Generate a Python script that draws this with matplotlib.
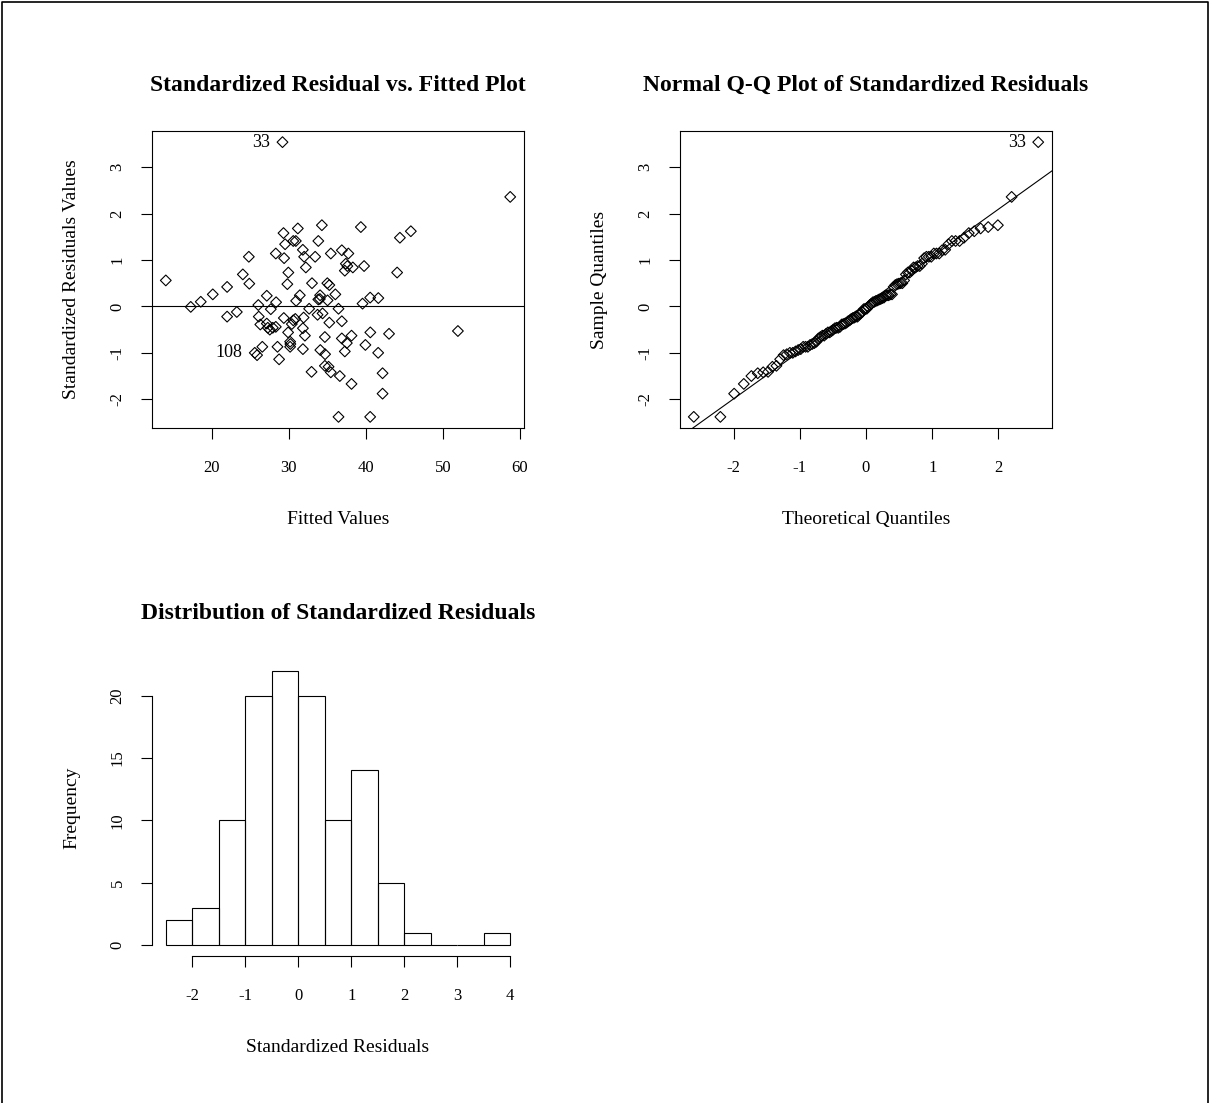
import matplotlib
matplotlib.use("Agg")
import matplotlib.pyplot as plt
import numpy as np
from statistics import NormalDist
from matplotlib.lines import Line2D

plt.rcParams['font.family'] = ['Liberation Serif', 'DejaVu Serif']
plt.rcParams['axes.unicode_minus'] = False

# ---- data ----
fitted = [29.18, 14.03, 17.27, 18.57, 20.13, 21.99, 21.99, 23.25, 24.03, 24.81,
          24.87, 26.04, 27.14, 28.35, 26.10, 27.66, 26.30, 27.14, 27.27, 27.53,
          27.92, 28.31, 25.58, 25.88, 26.56, 28.53, 28.74, 29.35, 29.91, 30.17,
          30.17, 30.58, 30.84, 29.81, 29.94, 29.39, 28.31, 29.31, 29.52, 30.58,
          30.91, 31.17, 31.82, 31.99, 32.21, 33.42, 33.83, 34.29, 35.45, 33.01,
          35.00, 35.26, 31.43, 30.95, 32.64, 33.83, 34.06, 34.03, 35.03, 36.04,
          33.73, 34.38, 31.92, 31.83, 32.09, 31.83, 34.09, 34.71, 34.68, 35.26,
          32.95, 34.68, 35.16, 35.45, 36.62, 36.45, 36.45, 36.88, 37.73, 37.40,
          37.60, 37.27, 38.31, 39.77, 44.06, 39.35, 44.42, 45.84, 58.74, 39.57,
          40.56, 41.62, 36.88, 51.95, 40.58, 43.01, 36.88, 38.14, 37.53, 37.27,
          39.94, 41.60, 38.14, 42.17, 42.17, 40.56, 30.39, 30.20]
std_resid = [3.54, 0.56, -0.01, 0.10, 0.26, 0.42, -0.22, -0.12, 0.69, 1.07,
             0.49, 0.03, 0.23, 0.09, -0.22, -0.06, -0.39, -0.37, -0.46, -0.50,
             -0.46, -0.44, -1.00, -1.05, -0.87, -0.87, -1.14, -0.25, -0.56, -0.76,
             -0.87, -0.30, -0.27, 0.48, 0.73, 1.04, 1.14, 1.58, 1.34, 1.41,
             1.41, 1.68, 1.22, 1.07, 0.84, 1.07, 1.41, 1.75, 1.14, 0.50,
             0.50, 0.46, 0.24, 0.12, -0.05, 0.15, 0.24, 0.16, 0.13, 0.26,
             -0.18, -0.15, -0.24, -0.47, -0.63, -0.92, -0.94, -1.03, -0.66, -0.35,
             -1.41, -1.28, -1.30, -1.42, -1.50, -2.38, -0.05, 1.21, 1.14, 0.92,
             0.87, 0.77, 0.84, 0.87, 0.73, 1.71, 1.48, 1.62, 2.36, 0.06,
             0.19, 0.18, -0.32, -0.53, -0.56, -0.59, -0.69, -0.63, -0.79, -0.97,
             -0.83, -1.00, -1.67, -1.44, -1.88, -2.38, -0.38, -0.81]
labels_idx = {33: 0, 108: 22}   # obs number -> index in lists

hist_edges = [-2.5, -2.0, -1.5, -1.0, -0.5, 0.0, 0.5, 1.0, 1.5, 2.0, 2.5, 3.0, 3.5, 4.0]
hist_counts = [2, 3, 10, 20, 22, 20, 10, 14, 5, 1, 0, 0, 1]

W, H = 1210, 1103
fig = plt.figure(figsize=(W / 100, H / 100), dpi=100)

def ax_at(x0, y0, x1, y1):
    return fig.add_axes([x0 / W, 1 - y1 / H, (x1 - x0) / W, (y1 - y0) / H])

LW = 0.8
TFS = 17
FS = 12
LFS = 14
TPAD = 29
XLP = 25
YLP = 21

def style(ax):
    for s in ax.spines.values():
        s.set_linewidth(LW)
    ax.tick_params(axis='x', direction='out', length=8, width=LW, labelsize=FS, pad=15)
    ax.tick_params(axis='y', direction='out', length=8, width=LW, labelsize=FS, pad=11)
    for lab in ax.get_yticklabels():
        lab.set_rotation(90)
        lab.set_va('center')

# ---- Scatter ----
ax1 = ax_at(152, 131, 524, 428)
ax1.scatter(fitted, std_resid, marker='D', s=30, facecolors='none',
            edgecolors='black', linewidths=0.8)
ax1.axhline(0, color='black', lw=LW)
ax1.set_xlim(12.24, 60.53)
ax1.set_ylim(-2.62, 3.78)
ax1.set_xticks([20, 30, 40, 50, 60])
ax1.set_yticks([-2, -1, 0, 1, 2, 3])
style(ax1)
for num, i in labels_idx.items():
    ax1.annotate(str(num), (fitted[i], std_resid[i]), xytext=(-9, 0),
                 textcoords='offset points', ha='right', va='center', fontsize=LFS - 1)
ax1.set_title('Standardized Residual vs. Fitted Plot', fontsize=TFS,
              fontweight='bold', pad=TPAD)
ax1.set_xlabel('Fitted Values', fontsize=LFS, labelpad=XLP)
ax1.set_ylabel('Standardized Residuals Values', fontsize=LFS, labelpad=YLP)

# ---- QQ ----
n = len(std_resid)
order = np.argsort(std_resid)
sample = np.array(std_resid)[order]
nd = NormalDist()
a = 3 / 8 if n <= 10 else 0.5
theo = np.array([nd.inv_cdf((k + 1 - a) / (n + 1 - 2 * a)) for k in range(n)])
ax2 = ax_at(680, 131, 1052, 428)
ax2.scatter(theo, sample, marker='D', s=30, facecolors='none',
            edgecolors='black', linewidths=0.8)
q1, q3 = np.quantile(std_resid, [0.25, 0.75])
z1, z3 = nd.inv_cdf(0.25), nd.inv_cdf(0.75)
slope = (q3 - q1) / (z3 - z1)
inter = q1 - slope * z1
ax2.axline((0, inter), slope=slope, color='black', lw=LW)
xr = theo.max() - theo.min()
ax2.set_xlim(theo.min() - 0.04 * xr, theo.max() + 0.04 * xr)
ax2.set_ylim(-2.62, 3.78)
ax2.set_xticks([-2, -1, 0, 1, 2])
ax2.set_yticks([-2, -1, 0, 1, 2, 3])
style(ax2)
ax2.annotate('33', (theo[-1], sample[-1]), xytext=(-9, 0),
             textcoords='offset points', ha='right', va='center', fontsize=LFS - 1)
ax2.set_title('Normal Q-Q Plot of Standardized Residuals', fontsize=TFS,
              fontweight='bold', pad=TPAD)
ax2.set_xlabel('Theoretical Quantiles', fontsize=LFS, labelpad=XLP)
ax2.set_ylabel('Sample Quantiles', fontsize=LFS, labelpad=YLP)

# ---- Histogram ----
ax3 = ax_at(152, 659.7, 524, 956)
ax3.bar(hist_edges[:-1], hist_counts, width=np.diff(hist_edges), align='edge',
        facecolor='none', edgecolor='black', linewidth=LW)
ax3.set_xlim(-2.76, 4.26)
ax3.set_ylim(-0.88, 22.88)
ax3.set_xticks([-2, -1, 0, 1, 2, 3, 4])
ax3.set_yticks([0, 5, 10, 15, 20])
ax3.spines['top'].set_visible(False)
ax3.spines['right'].set_visible(False)
ax3.spines['left'].set_bounds(0, 20)
ax3.spines['bottom'].set_bounds(-2, 4)
style(ax3)
ax3.set_title('Distribution of Standardized Residuals', fontsize=TFS,
              fontweight='bold', pad=TPAD)
ax3.set_xlabel('Standardized Residuals', fontsize=LFS, labelpad=XLP)
ax3.set_ylabel('Frequency', fontsize=LFS, labelpad=YLP)

# ---- outer frame (left, top, right) ----
fig.add_artist(Line2D([2 / W, 2 / W, 1 - 2 / W, 1 - 2 / W], [0, 1 - 2 / H, 1 - 2 / H, 0],
                      transform=fig.transFigure, color='black', lw=1.2))

fig.savefig('out.png', dpi=100)
